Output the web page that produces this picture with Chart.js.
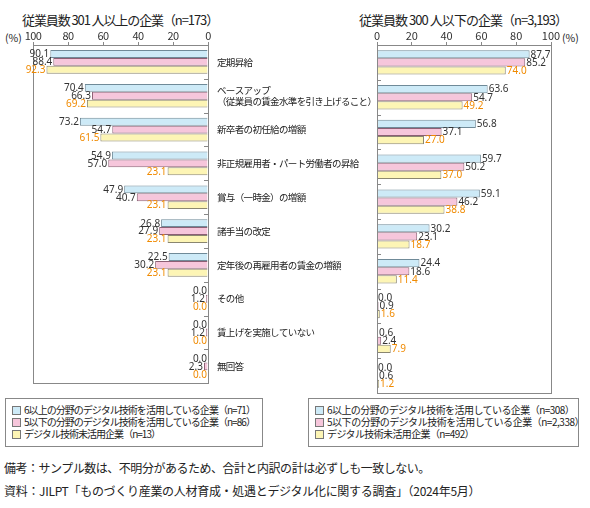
<!DOCTYPE html>
<html>
<head>
<meta charset="utf-8">
<script src="https://cdn.jsdelivr.net/npm/chart.js@4"></script>
<style>
  body { margin: 0; background: #fff; font-family: "Noto Sans CJK JP", "Noto Sans", sans-serif; color: #222; }
  #wrap { position: relative; width: 590px; height: 508px; overflow: hidden; }
  .abs { position: absolute; white-space: nowrap; }
  .title { font-size: 13px; top: 10px; }
  .pct { font-size: 10.5px; top: 30px; }
  .legend { border: 1px solid #888; font-size: 10px; line-height: 12px; padding: 5px 0 0 6px; box-sizing: border-box; }
  .legend div { height: 12px; }
  .sw { display: inline-block; width: 7px; height: 7px; border: 1px solid #777; margin-right: 3px; vertical-align: -1px; }
  .note { font-size: 12px; left: 4px; }
</style>
</head>
<body>
<div id="wrap">
  <div class="abs title fit" data-w="196" style="left:22px;">従業員数 301 人以上の企業（n=173）</div>
  <div class="abs title fit" data-w="208" style="left:359px;">従業員数 300 人以下の企業（n=3,193）</div>
  <div class="abs pct" style="left:5px;">(%)</div>
  <div class="abs pct" style="left:562px;">(%)</div>

  <div class="abs" style="left:0;top:28px;width:400px;height:370px;"><canvas id="leftChart"></canvas></div>
  <div class="abs" style="left:370px;top:28px;width:220px;height:370px;"><canvas id="rightChart"></canvas></div>

  <div class="abs legend" style="left:5px;top:398px;width:258px;height:49px;">
    <div><span class="sw" style="background:#cdeaf7"></span><span class="fit" data-w="231">6以上の分野のデジタル技術を活用している企業（n=71）</span></div>
    <div><span class="sw" style="background:#f6c6db"></span><span class="fit" data-w="231">5以下の分野のデジタル技術を活用している企業（n=86）</span></div>
    <div><span class="sw" style="background:#fdf5b5"></span><span class="fit" data-w="136">デジタル技術未活用企業（n=13）</span></div>
  </div>
  <div class="abs legend" style="left:308px;top:398px;width:271px;height:49px;">
    <div><span class="sw" style="background:#cdeaf7"></span><span class="fit" data-w="247">6以上の分野のデジタル技術を活用している企業（n=308）</span></div>
    <div><span class="sw" style="background:#f6c6db"></span><span class="fit" data-w="257">5以下の分野のデジタル技術を活用している企業（n=2,338）</span></div>
    <div><span class="sw" style="background:#fdf5b5"></span><span class="fit" data-w="147">デジタル技術未活用企業（n=492）</span></div>
  </div>

  <div class="abs note fit" data-w="426" style="top:459px;">備考：サンプル数は、不明分があるため、合計と内訳の計は必ずしも一致しない。</div>
  <div class="abs note fit" data-w="476" style="top:482px;">資料：JILPT「ものづくり産業の人材育成・処遇とデジタル化に関する調査」（2024年5月）</div>
</div>

<script>
const categories = [
  '定期昇給',
  ['ベースアップ', '（従業員の賃金水準を引き上げること）'],
  '新卒者の初任給の増額',
  '非正規雇用者・パート労働者の昇給',
  '賞与（一時金）の増額',
  '諸手当の改定',
  '定年後の再雇用者の賃金の増額',
  'その他',
  '賃上げを実施していない',
  '無回答'
];
const seriesNames = [
  '6以上の分野のデジタル技術を活用している企業',
  '5以下の分野のデジタル技術を活用している企業',
  'デジタル技術未活用企業'
];
// 従業員数301人以上
const large6 = [90.1, 70.4, 73.2, 54.9, 47.9, 26.8, 22.5, 0.0, 0.0, 0.0];
const large5 = [88.4, 66.3, 54.7, 57.0, 40.7, 27.9, 30.2, 1.2, 1.2, 2.3];
const largeNone = [92.3, 69.2, 61.5, 23.1, 23.1, 23.1, 23.1, 0.0, 0.0, 0.0];
// 従業員数300人以下
const small6 = [87.7, 63.6, 56.8, 59.7, 59.1, 30.2, 24.4, 0.0, 0.6, 0.0];
const small5 = [85.2, 54.7, 37.1, 50.2, 46.2, 23.1, 18.6, 0.9, 2.4, 0.6];
const smallNone = [74.0, 49.2, 27.0, 37.0, 38.8, 18.7, 11.4, 1.6, 7.9, 1.2];

const fills = ['#cdeaf7', '#f6c6db', '#fdf5b5'];
const borders = ['#6f8a98', '#8c5f74', '#8a8670'];
const labelColors = ['#333', '#333', '#f08a00'];

// squeeze html text to the widths in the original
document.querySelectorAll('.fit').forEach(el => {
  const w = el.getBoundingClientRect().width;
  const n = el.textContent.length;
  el.style.letterSpacing = ((+el.dataset.w - w) / n).toFixed(2) + 'px';
});

Chart.defaults.font.family = '"Noto Sans CJK JP", "Noto Sans", sans-serif';
Chart.defaults.color = '#222';

function makeDatasets(arrs) {
  return arrs.map((d, i) => ({
    label: seriesNames[i],
    data: d,
    backgroundColor: fills[i],
    borderColor: borders[i],
    borderWidth: 1,
    categoryPercentage: 0.7,
    barPercentage: 1.0
  }));
}

// tighter category labels, like the print
const tight = {
  id: 'tight',
  beforeDraw(chart) { chart.ctx.letterSpacing = '-0.65px'; },
  afterDraw(chart) { chart.ctx.letterSpacing = '0px'; }
};

// frame, small ticks at category boundaries, value labels
const decor = {
  id: 'decor',
  afterDatasetsDraw(chart, args, opts) {
    const ctx = chart.ctx;
    const a = chart.chartArea;
    const y = chart.scales.y;
    ctx.save();
    ctx.letterSpacing = '0px';
    ctx.strokeStyle = '#888';
    ctx.lineWidth = 1;
    ctx.strokeRect(Math.round(a.left) + 0.5, Math.round(a.top) + 0.5, Math.round(a.right - a.left), Math.round(a.bottom - a.top));
    const zeroX = opts.side === 'left' ? a.right : a.left;
    const dir = opts.side === 'left' ? -1 : 1;
    ctx.beginPath();
    for (let k = 1; k < categories.length; k++) {
      const yy = Math.round((y.getPixelForValue(k - 1) + y.getPixelForValue(k)) / 2) + 0.5;
      ctx.moveTo(zeroX, yy);
      ctx.lineTo(zeroX + dir * 4, yy);
    }
    ctx.stroke();

    ctx.font = '10px "Noto Sans", sans-serif';
    ctx.textBaseline = 'middle';
    chart.data.datasets.forEach((ds, i) => {
      const meta = chart.getDatasetMeta(i);
      ctx.fillStyle = labelColors[i];
      meta.data.forEach((bar, j) => {
        const txt = ds.data[j].toFixed(1);
        if (opts.side === 'left') {
          ctx.textAlign = 'right';
          ctx.fillText(txt, bar.x - 1, bar.y + 0.5);
        } else {
          ctx.textAlign = 'left';
          ctx.fillText(txt, bar.x + 1, bar.y + 0.5);
        }
      });
    });
    ctx.restore();
  }
};

function xAxis(reverse) {
  return {
    position: 'top',
    reverse: reverse,
    min: 0,
    max: 100,
    ticks: { stepSize: 20, padding: 0, font: { size: 11 }, color: '#333', maxRotation: 0 },
    grid: { drawOnChartArea: false, tickLength: 3, color: '#888' },
    border: { display: false },
    afterFit(scale) { scale.height = 17; }
  };
}

new Chart(document.getElementById('leftChart'), {
  type: 'bar',
  data: { labels: categories, datasets: makeDatasets([large6, large5, largeNone]) },
  options: {
    indexAxis: 'y',
    responsive: true,
    maintainAspectRatio: false,
    animation: false,
    layout: { padding: { left: 33, right: 0, top: 0, bottom: 5 } },
    plugins: { legend: { display: false }, tooltip: { enabled: false }, decor: { side: 'left' } },
    scales: {
      x: xAxis(true),
      y: {
        position: 'right',
        ticks: { padding: 9, font: { size: 9.5 }, color: '#222', crossAlign: 'near', autoSkip: false },
        grid: { display: false, drawTicks: false },
        border: { display: false },
        afterFit(scale) { scale.width = 192; }
      }
    }
  },
  plugins: [tight, decor]
});

new Chart(document.getElementById('rightChart'), {
  type: 'bar',
  data: { labels: categories, datasets: makeDatasets([small6, small5, smallNone]) },
  options: {
    indexAxis: 'y',
    responsive: true,
    maintainAspectRatio: false,
    animation: false,
    layout: { padding: { left: 7, right: 39, top: 0, bottom: 5 } },
    plugins: { legend: { display: false }, tooltip: { enabled: false }, decor: { side: 'right' } },
    scales: {
      x: xAxis(false),
      y: {
        position: 'left',
        ticks: { display: false },
        grid: { display: false, drawTicks: false },
        border: { display: false },
        afterFit(scale) { scale.width = 0; }
      }
    }
  },
  plugins: [decor]
});
</script>
</body>
</html>
